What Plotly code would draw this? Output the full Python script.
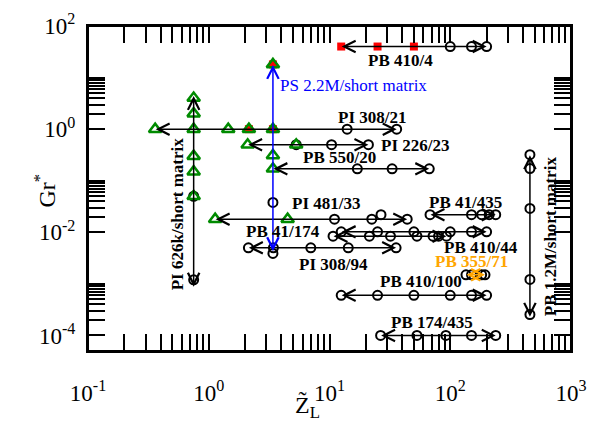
import math
import plotly.graph_objects as go

FONT = "Liberation Serif"
GREEN = "#008B00"
ORANGE = "#FFA500"
BLUE = "#0000FF"

# ---------------- axes ----------------
x_range = [0.1, 1000]
y_range = [5e-5, 100]
x_major = [0.1, 1, 10, 100, 1000]
x_major_text = ["10<sup>-1</sup>", "10<sup>0</sup>", "10<sup>1</sup>", "10<sup>2</sup>", "10<sup>3</sup>"]
y_major = [1e-4, 1e-2, 1, 100]
y_major_text = ["10<sup>-4</sup>", "10<sup>-2</sup>", "10<sup>0</sup>", "10<sup>2</sup>"]
x_minor = [m * 10.0 ** e for e in (-1, 0, 1, 2) for m in range(2, 10)]
y_minor = [m * 10.0 ** e for e in (-4, -2, 0) for m in range(2, 11)]

# ---------------- data: Z_L (x) vs Gr* (y) ----------------
# marker codes: o circle, t triangle, s square, st square+triangle, ot circle+triangle
pb410_4_z = [12.5, 25, 50, 100, 150, 200]
pb410_4_gr = [40, 40, 40, 40, 40, 40]
pb410_4_sym = ["s", "s", "s", "o", "o", "o"]
pb410_4_span_z = [12.5, 200]
pb410_4_span_gr = [40, 40]

ps22m_z = [3.4, 3.4, 3.4, 3.4]
ps22m_gr = [18, 0.31, 0.038, 0.0039]
ps22m_sym = ["st", "t", "o", "o"]
ps22m_span_z = [3.4, 3.4]
ps22m_span_gr = [18, 0.0043]

pi626k_z = [0.75, 0.75, 0.75, 0.75, 0.75, 0.75]
pi626k_gr = [4, 2, 0.3, 0.15, 0.05, 0.0012]
pi626k_sym = ["t", "t", "t", "t", "ot", "o"]
pi626k_span_z = [0.75, 0.75]
pi626k_span_gr = [4.5, 0.00088]

pi308_21_z = [0.36, 0.75, 1.45, 2.15, 3.4, 14, 36]
pi308_21_gr = [1, 1, 1, 1, 1, 1, 1]
pi308_21_sym = ["t", "t", "t", "st", "st", "o", "o"]
pi308_21_span_z = [0.36, 36]
pi308_21_span_gr = [1, 1]

pi226_23_z = [2.1, 5.3, 10.4, 21]
pi226_23_gr = [0.5, 0.5, 0.5, 0.5]
pi226_23_sym = ["t", "ot", "o", "o"]
pi226_23_span_z = [2.1, 21]
pi226_23_span_gr = [0.5, 0.5]

pb550_20_z = [3.4, 17, 33, 67]
pb550_20_gr = [0.17, 0.17, 0.17, 0.17]
pb550_20_sym = ["t", "o", "o", "o"]
pb550_20_span_z = [3.4, 67]
pb550_20_span_gr = [0.17, 0.17]

pi481_33_z = [1.13, 4.5, 11, 22.4, 26.7, 44]
pi481_33_gr = [0.018, 0.018, 0.018, 0.018, 0.022, 0.018]
pi481_33_sym = ["t", "t", "o", "o", "o", "o"]
pi481_33_span_z = [1.13, 44]
pi481_33_span_gr = [0.018, 0.018]

pb41_435_z = [68, 150, 182, 210, 238]
pb41_435_gr = [0.022, 0.022, 0.022, 0.022, 0.022]
pb41_435_sym = ["o", "o", "o", "o", "o"]
pb41_435_span_z = [68, 238]
pb41_435_span_gr = [0.022, 0.022]

pb410_44_z = [12.5, 25, 50, 100, 150, 200]
pb410_44_gr = [0.0102, 0.0102, 0.0102, 0.0102, 0.0102, 0.0102]
pb410_44_sym = ["o", "o", "o", "o", "o", "o"]
pb410_44_span_z = [12.5, 200]
pb410_44_span_gr = [0.0102, 0.0102]

pb41_174_z = [10.7, 21.4, 32, 53, 72, 80, 93]
pb41_174_gr = [0.0084, 0.0084, 0.0084, 0.0084, 0.0084, 0.0084, 0.0084]
pb41_174_sym = ["o", "o", "o", "o", "o", "o", "o"]
pb41_174_span_z = [10.7, 93]
pb41_174_span_gr = [0.0084, 0.0084]

pi308_94_z = [2.13, 3.43, 7.0, 14.3, 35.6]
pi308_94_gr = [0.005, 0.005, 0.005, 0.005, 0.005]
pi308_94_sym = ["o", "o", "o", "o", "o"]
pi308_94_span_z = [2.13, 35.6]
pi308_94_span_gr = [0.005, 0.005]

pb355_71_z = [135, 150, 182, 194]
pb355_71_gr = [0.0015, 0.0015, 0.0015, 0.0015]
pb355_71_sym = ["o", "o", "o", "o"]
pb355_71_span_z = [135, 194]
pb355_71_span_gr = [0.0015, 0.0015]

pb410_100_z = [12.5, 25, 50, 100, 150, 200]
pb410_100_gr = [0.0006, 0.0006, 0.0006, 0.0006, 0.0006, 0.0006]
pb410_100_sym = ["o", "o", "o", "o", "o", "o"]
pb410_100_span_z = [12.5, 200]
pb410_100_span_gr = [0.0006, 0.0006]

pb174_435_z = [26.5, 53, 92, 150, 238]
pb174_435_gr = [1e-4, 1e-4, 1e-4, 1e-4, 1e-4]
pb174_435_sym = ["o", "o", "o", "o", "o"]
pb174_435_span_z = [26.5, 238]
pb174_435_span_gr = [1e-4, 1e-4]

pb1_2m_z = [457, 457, 457, 457, 457]
pb1_2m_gr = [0.32, 0.172, 0.029, 0.00122, 0.000255]
pb1_2m_sym = ["o", "o", "o", "o", "o"]
pb1_2m_span_z = [457, 457]
pb1_2m_span_gr = [0.32, 0.00023]

# (points, span, line colour)
series = [
    ((pb410_4_z, pb410_4_gr, pb410_4_sym), (pb410_4_span_z, pb410_4_span_gr), "black"),
    ((pi626k_z, pi626k_gr, pi626k_sym), (pi626k_span_z, pi626k_span_gr), "black"),
    ((pi308_21_z, pi308_21_gr, pi308_21_sym), (pi308_21_span_z, pi308_21_span_gr), "black"),
    ((pi226_23_z, pi226_23_gr, pi226_23_sym), (pi226_23_span_z, pi226_23_span_gr), "black"),
    ((pb550_20_z, pb550_20_gr, pb550_20_sym), (pb550_20_span_z, pb550_20_span_gr), "black"),
    ((pi481_33_z, pi481_33_gr, pi481_33_sym), (pi481_33_span_z, pi481_33_span_gr), "black"),
    ((pb41_435_z, pb41_435_gr, pb41_435_sym), (pb41_435_span_z, pb41_435_span_gr), "black"),
    ((pb410_44_z, pb410_44_gr, pb410_44_sym), (pb410_44_span_z, pb410_44_span_gr), "black"),
    ((pb41_174_z, pb41_174_gr, pb41_174_sym), (pb41_174_span_z, pb41_174_span_gr), "black"),
    ((pi308_94_z, pi308_94_gr, pi308_94_sym), (pi308_94_span_z, pi308_94_span_gr), "black"),
    ((pb355_71_z, pb355_71_gr, pb355_71_sym), (pb355_71_span_z, pb355_71_span_gr), ORANGE),
    ((pb410_100_z, pb410_100_gr, pb410_100_sym), (pb410_100_span_z, pb410_100_span_gr), "black"),
    ((pb174_435_z, pb174_435_gr, pb174_435_sym), (pb174_435_span_z, pb174_435_span_gr), "black"),
    ((pb1_2m_z, pb1_2m_gr, pb1_2m_sym), (pb1_2m_span_z, pb1_2m_span_gr), "black"),
    ((ps22m_z, ps22m_gr, ps22m_sym), (ps22m_span_z, ps22m_span_gr), BLUE),
]

# series labels: text, anchor point (Z, Gr*), colour, bold, angle, x anchor
labels = [
    ("PB 410/4", 39, 21.6, "black", True, 0, "center"),
    ("PS 2.2M/short matrix", 3.74, 7.1, BLUE, False, 0, "left"),
    ("PI 308/21", 22.7, 1.72, "black", True, 0, "center"),
    ("PI 226/23", 51, 0.477, "black", True, 0, "center"),
    ("PB 550/20", 12, 0.285, "black", True, 0, "center"),
    ("PI 481/33", 9.35, 0.0366, "black", True, 0, "center"),
    ("PB 41/435", 135, 0.0379, "black", True, 0, "center"),
    ("PB 41/174", 4.12, 0.0102, "black", True, 0, "center"),
    ("PB 410/44", 180, 0.00514, "black", True, 0, "center"),
    ("PI 308/94", 10.7, 0.00241, "black", True, 0, "center"),
    ("PB 355/71", 149, 0.00267, ORANGE, True, 0, "center"),
    ("PB 410/100", 57.3, 0.00109, "black", True, 0, "center"),
    ("PB 174/435", 70.6, 0.000175, "black", True, 0, "center"),
    ("PI 626k/short matrix", 0.546, 0.0224, "black", True, -90, "center"),
    ("PB 1.2M/short matrix", 670, 0.0084, "black", True, -90, "center"),
]

# ---------------- gather markers by symbol ----------------
sq_x, sq_y, tri_x, tri_y, circ_x, circ_y = [], [], [], [], [], []
for (zs, grs, syms), _, _ in series:
    for z, g, s in zip(zs, grs, syms):
        if "s" in s:
            sq_x.append(z); sq_y.append(g)
        if "o" in s:
            circ_x.append(z); circ_y.append(g)
        if "t" in s:
            tri_x.append(z); tri_y.append(g)

fig = go.Figure()
fig.add_trace(go.Scatter(x=sq_x, y=sq_y, mode="markers", hoverinfo="skip",
                         marker=dict(symbol="square", size=8, color="#FF0000", line=dict(width=0))))
fig.add_trace(go.Scatter(x=circ_x, y=circ_y, mode="markers", hoverinfo="skip",
                         marker=dict(symbol="circle-open", size=9, color="black", line=dict(width=2))))
fig.add_trace(go.Scatter(x=tri_x, y=tri_y, mode="markers", hoverinfo="skip",
                         marker=dict(symbol="triangle-up-open", size=11, color=GREEN, line=dict(width=2.5))))
# invisible copies that attach the mirrored top / right axes
fig.add_trace(go.Scatter(x=circ_x, y=circ_y, xaxis="x2", yaxis="y", mode="markers",
                         marker=dict(opacity=0), hoverinfo="skip", showlegend=False))
fig.add_trace(go.Scatter(x=circ_x, y=circ_y, xaxis="x", yaxis="y2", mode="markers",
                         marker=dict(opacity=0), hoverinfo="skip", showlegend=False))

annotations = []
# double-headed arrows spanning each series
for _, (sz, sg), color in series:
    annotations.append(dict(
        x=math.log10(sz[1]), y=math.log10(sg[1]), ax=math.log10(sz[0]), ay=math.log10(sg[0]),
        xref="x", yref="y", axref="x", ayref="y", text="", showarrow=True,
        arrowhead=5, startarrowhead=5, arrowside="end+start",
        arrowsize=1.5, startarrowsize=1.5, arrowwidth=1.5, arrowcolor=color,
        standoff=0, startstandoff=0, borderpad=0))

for text, z, g, color, bold, angle, anchor in labels:
    annotations.append(dict(
        x=math.log10(z), y=math.log10(g), xref="x", yref="y", showarrow=False,
        text=f"<b>{text}</b>" if bold else text, textangle=angle, xanchor=anchor, yanchor="middle",
        font=dict(family=FONT, size=17, color=color)))

# axis titles
annotations.append(dict(x=0.455, y=-0.17, xref="paper", yref="paper", showarrow=False,
                        text="Z\u0303<sub>L</sub>", font=dict(family=FONT, size=24, color="black"),
                        xanchor="center", yanchor="middle"))
annotations.append(dict(x=-0.089, y=0.494, xref="paper", yref="paper", showarrow=False,
                        text="Gr<sup>*</sup>", textangle=-90, font=dict(family=FONT, size=24, color="black"),
                        xanchor="center", yanchor="middle"))

axis_common = dict(
    type="log", showline=True, linewidth=2, linecolor="black", mirror="allticks",
    ticks="inside", ticklen=17, tickwidth=1.5, tickcolor="black", automargin=False,
    showgrid=False, zeroline=False, tickmode="array",
    tickfont=dict(family=FONT, size=23, color="black"),
)
x_axis = dict(axis_common, range=[math.log10(v) for v in x_range],
              tickvals=x_major, ticktext=x_major_text,
              minor=dict(tickmode="array", tickvals=x_minor, ticks="inside", ticklen=8,
                         tickwidth=1.5, tickcolor="black", showgrid=False))
y_axis = dict(axis_common, range=[math.log10(v) for v in y_range],
              tickvals=y_major, ticktext=y_major_text,
              minor=dict(tickmode="array", tickvals=y_minor, ticks="inside", ticklen=8,
                         tickwidth=1.5, tickcolor="black", showgrid=False))

fig.update_layout(
    width=589, height=431,
    margin=dict(l=88, r=18, t=26, b=80, autoexpand=False),
    paper_bgcolor="white", plot_bgcolor="white",
    showlegend=False,
    font=dict(family=FONT, color="black"),
    annotations=annotations,
    shapes=[dict(type="rect", xref="paper", yref="paper", x0=0, x1=1, y0=0, y1=1,
                 line=dict(color="black", width=2), layer="above")],
    xaxis=dict(x_axis, ticklabelstandoff=20),
    yaxis=dict(y_axis, ticklabelstandoff=6),
    xaxis2=dict(x_axis, overlaying="x", side="top", anchor="y", showticklabels=False),
    yaxis2=dict(y_axis, overlaying="y", side="right", anchor="x", showticklabels=False),
)

fig.write_html("out.html")
